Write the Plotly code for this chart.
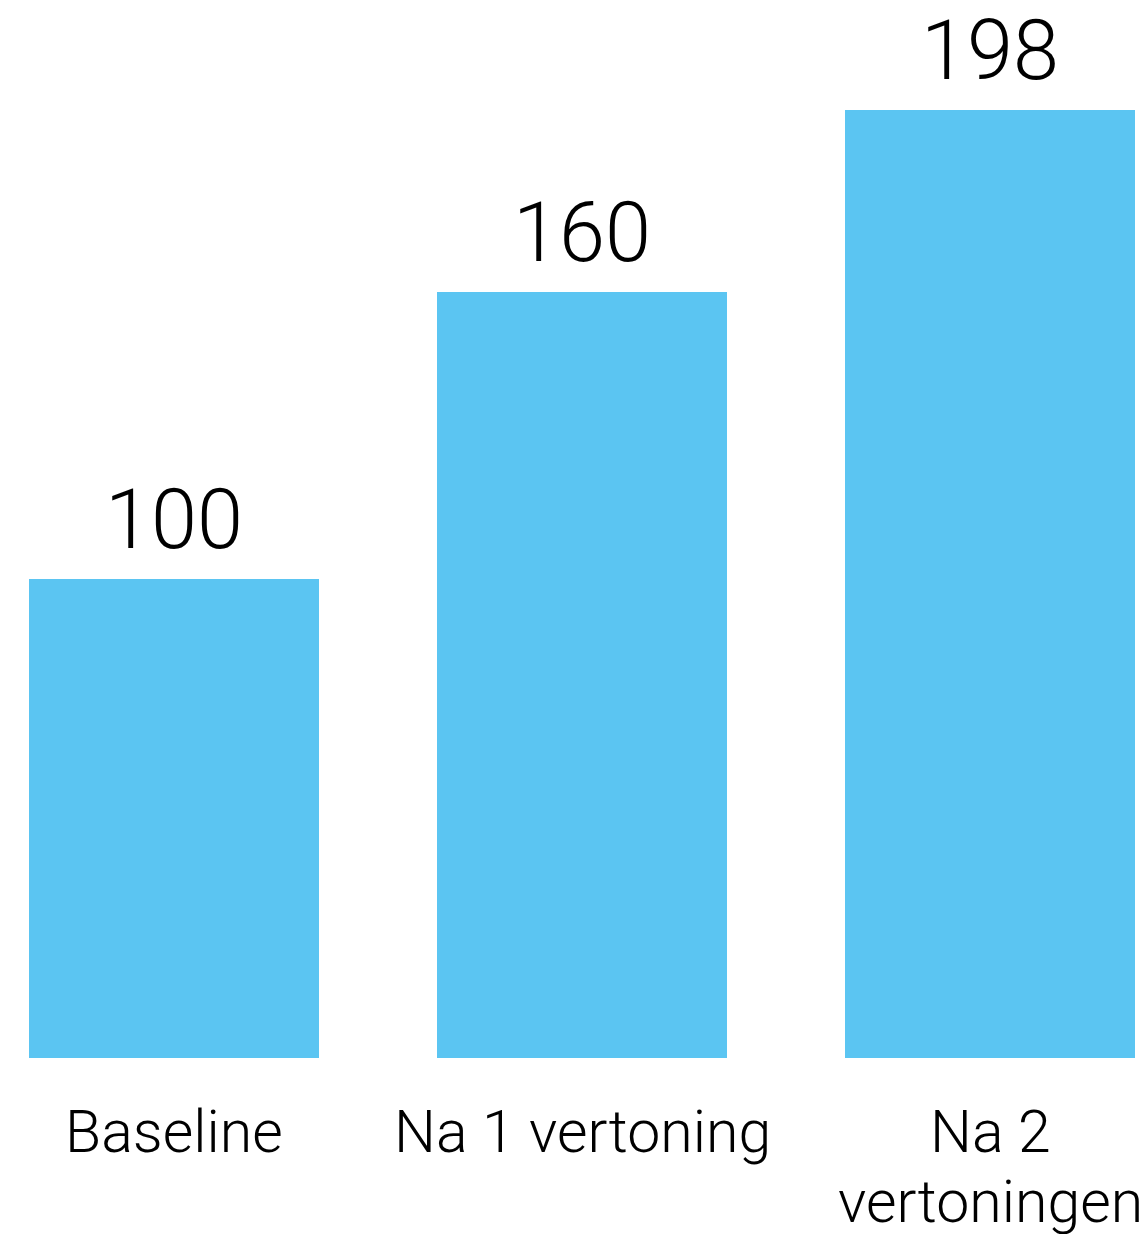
import plotly.graph_objects as go

# Index scores per exposure step
categories = ["Baseline", "Na 1 vertoning", "Na 2 vertoningen"]
label_lines = [["Baseline"], ["Na 1 vertoning"], ["Na 2", "vertoningen"]]
values = [100, 160, 198]

BAR_COLOR = "#5BC5F2"
FONT = "Roboto Light, Roboto, sans-serif"
LABEL_SIZE = 59

fig = go.Figure(
    go.Bar(
        x=list(range(len(categories))),
        y=values,
        marker=dict(color=BAR_COLOR, line=dict(width=0)),
        width=0.711,
        hoverinfo="skip",
    )
)

# value labels above each bar
for i, v in enumerate(values):
    fig.add_annotation(
        x=i, y=v, xref="x", yref="y",
        text=str(v), showarrow=False,
        yanchor="middle", yshift=60,
        font=dict(family=FONT, size=83, color="#000000"),
    )

# category labels below the axis, one annotation per line (tight leading)
PLOT_BOTTOM_PX = 1058
FIRST_LINE_PX = 1131
LINE_PX = 70
for i, lines in enumerate(label_lines):
    for j, line in enumerate(lines):
        center_px = FIRST_LINE_PX + j * LINE_PX
        fig.add_annotation(
            x=i, y=-(center_px - PLOT_BOTTOM_PX) / PLOT_BOTTOM_PX,
            xref="x", yref="paper",
            text=line, showarrow=False,
            yanchor="middle", xanchor="center",
            font=dict(family=FONT, size=LABEL_SIZE, color="#000000"),
        )

fig.update_layout(
    width=1143, height=1234,
    margin=dict(l=0, r=0, t=0, b=176, pad=0),
    paper_bgcolor="white", plot_bgcolor="white",
    showlegend=False,
    bargap=0,
    xaxis=dict(range=[-174 / 408, (1143 - 174) / 408], visible=False, fixedrange=True),
    yaxis=dict(range=[0, 221.0], visible=False, fixedrange=True),
)

fig.write_html("out.html", config={"displayModeBar": False})
